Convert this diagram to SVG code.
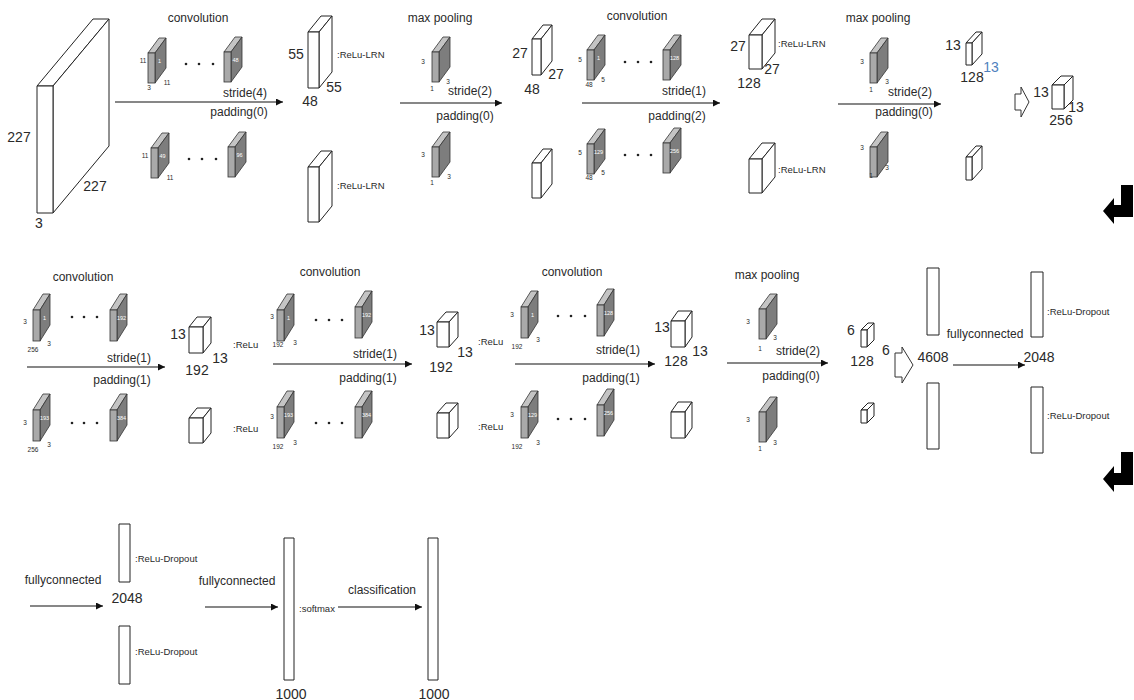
<svg xmlns="http://www.w3.org/2000/svg" width="1134" height="700" viewBox="0 0 1134 700">
<style>
.t{font-family:"Liberation Sans",Arial,sans-serif;fill:#2a2a2a}
.op{font-size:12px}
.dim{font-size:14px}
.sm{font-size:6.5px;text-anchor:middle}
.act{font-size:9.5px}
.in{font-family:"Liberation Sans",Arial,sans-serif;font-size:5.5px;fill:#fff;text-anchor:middle}
.mid{text-anchor:middle}
.box{fill:#fff;stroke:#222;stroke-width:1;stroke-linejoin:round}
.kf{fill:#a9a9a9;stroke:#333;stroke-width:0.8}
.ks{fill:#7d7d7d;stroke:#333;stroke-width:0.8}
.kt{fill:#c4c4c4;stroke:#333;stroke-width:0.8}
.conn{stroke:#111;stroke-width:1.2;fill:none;marker-end:url(#ah)}
.hollow{fill:#fff;stroke:#333;stroke-width:1}
.ret{fill:#000}
.dot{fill:#222}
</style>
<defs>
<marker id="ah" viewBox="0 0 10 10" refX="10" refY="5" markerWidth="9" markerHeight="7" markerUnits="userSpaceOnUse" orient="auto"><path d="M0,0 L10,5 L0,10 z" fill="#111"/></marker>
<g id="kern"><polygon class="kt" points="0,0 7,0 18,-15 11,-15"/><polygon class="ks" points="7,0 18,-15 18,15 7,30"/><rect class="kf" x="0" y="0" width="7" height="30"/></g>
<g id="kern2"><polygon class="kt" points="0,0 7,0 17,-16 10,-16"/><polygon class="ks" points="7,0 17,-16 17,15 7,31"/><rect class="kf" x="0" y="0" width="7" height="31"/></g>
</defs>

<g id="connectors">
<line class="conn" x1="115" y1="102" x2="283" y2="102"/>
<line class="conn" x1="400" y1="103" x2="502" y2="103"/>
<line class="conn" x1="582" y1="103" x2="720" y2="103"/>
<line class="conn" x1="838" y1="104" x2="941" y2="104"/>
<polygon class="hollow" points="1015,94 1021,94 1021,87 1029,102 1021,117 1021,110 1015,110"/>
<polygon class="ret" points="1121,185 1133,185 1133,217 1114,217 1114,224 1103,211 1114,198 1114,205 1121,205"/>
<line class="conn" x1="27" y1="367" x2="165" y2="367"/>
<line class="conn" x1="273" y1="364" x2="412" y2="364"/>
<line class="conn" x1="515" y1="364" x2="655" y2="364"/>
<line class="conn" x1="727" y1="363" x2="828" y2="363"/>
<polygon class="hollow" points="895,353 902,353 902,347 913,365 902,383 902,377 895,377"/>
<line class="conn" x1="953" y1="365" x2="1025" y2="365"/>
<polygon class="ret" points="1121,452 1133,452 1133,485 1114,485 1114,492 1103,479 1114,466 1114,473 1121,473"/>
<line class="conn" x1="30" y1="606" x2="103" y2="606"/>
<line class="conn" x1="205" y1="607" x2="278" y2="607"/>
<line class="conn" x1="338" y1="607" x2="422" y2="607"/>
</g>

<g id="input">
<polygon class="box" points="37,86 53,86 109,19 93,19"/>
<polygon class="box" points="53,86 109,19 109,146 53,213"/>
<rect class="box" x="37" y="86" width="16" height="127"/>
<text class="t dim mid" x="19" y="142">227</text>
<text class="t dim mid" x="95" y="191">227</text>
<text class="t dim mid" x="39" y="228">3</text>
</g>

<g id="conv1">
<text class="t op mid" x="198" y="22">convolution</text>
<use href="#kern" x="148" y="53"/><text class="in" x="159.5" y="63">1</text>
<text class="t sm" x="143" y="63">11</text><text class="t sm" x="149" y="90">3</text><text class="t sm" x="167" y="85">11</text>
<circle class="dot" cx="186" cy="64" r="1.3"/><circle class="dot" cx="199" cy="64" r="1.3"/><circle class="dot" cx="213" cy="64" r="1.3"/>
<use href="#kern" x="224" y="52"/><text class="in" x="235.5" y="62">48</text>
<use href="#kern" x="151" y="148"/><text class="in" x="162.5" y="158">49</text>
<text class="t sm" x="145" y="158">11</text><text class="t sm" x="170" y="180">11</text>
<circle class="dot" cx="189" cy="159" r="1.3"/><circle class="dot" cx="202" cy="159" r="1.3"/><circle class="dot" cx="216" cy="159" r="1.3"/>
<use href="#kern" x="228" y="147"/><text class="in" x="239.5" y="157">96</text>
<text class="t op mid" x="245" y="97">stride(4)</text>
<text class="t op mid" x="239" y="116">padding(0)</text>
</g>

<g id="fmap1">
<polygon class="box" points="308,32 319,32 332,16 321,16"/>
<polygon class="box" points="319,32 332,16 332,72 319,88"/>
<rect class="box" x="308" y="32" width="11" height="56"/>
<polygon class="box" points="308,167 319,167 332,151 321,151"/>
<polygon class="box" points="319,167 332,151 332,206 319,222"/>
<rect class="box" x="308" y="167" width="11" height="55"/>
<text class="t dim mid" x="296" y="59">55</text>
<text class="t dim mid" x="334" y="92">55</text>
<text class="t dim mid" x="310" y="106">48</text>
<text class="t act" x="337" y="58">:ReLu-LRN</text>
<text class="t act" x="337" y="189">:ReLu-LRN</text>
</g>

<g id="pool1">
<text class="t op mid" x="440" y="22">max pooling</text>
<use href="#kern" x="432" y="52"/>
<text class="t sm" x="423" y="64">3</text><text class="t sm" x="432" y="91">1</text><text class="t sm" x="448" y="84">3</text>
<use href="#kern" x="432" y="147"/>
<text class="t sm" x="423" y="157">3</text><text class="t sm" x="432" y="185">1</text><text class="t sm" x="449" y="179">3</text>
<text class="t op mid" x="470" y="95">stride(2)</text>
<text class="t op mid" x="465" y="120">padding(0)</text>
</g>

<g id="fmap2">
<polygon class="box" points="532,39 541,39 552,25 543,25"/>
<polygon class="box" points="541,39 552,25 552,61 541,75"/>
<rect class="box" x="532" y="39" width="9" height="36"/>
<polygon class="box" points="532,163 541,163 552,149 543,149"/>
<polygon class="box" points="541,163 552,149 552,184 541,198"/>
<rect class="box" x="532" y="163" width="9" height="35"/>
<text class="t dim mid" x="520" y="58">27</text>
<text class="t dim mid" x="556" y="79">27</text>
<text class="t dim mid" x="532" y="94">48</text>
</g>

<g id="conv2">
<text class="t op mid" x="637" y="20">convolution</text>
<use href="#kern" x="587" y="50"/><text class="in" x="598.5" y="60">1</text>
<text class="t sm" x="580" y="62">5</text><text class="t sm" x="589" y="87">48</text><text class="t sm" x="603" y="82">5</text>
<circle class="dot" cx="625" cy="62" r="1.3"/><circle class="dot" cx="638" cy="62" r="1.3"/><circle class="dot" cx="651" cy="62" r="1.3"/>
<use href="#kern" x="663" y="50"/><text class="in" x="674.5" y="60">128</text>
<use href="#kern" x="587" y="144"/><text class="in" x="598.5" y="154">129</text>
<text class="t sm" x="580" y="155">5</text><text class="t sm" x="589" y="180">48</text><text class="t sm" x="603" y="175">5</text>
<circle class="dot" cx="625" cy="155" r="1.3"/><circle class="dot" cx="638" cy="155" r="1.3"/><circle class="dot" cx="651" cy="155" r="1.3"/>
<use href="#kern" x="663" y="143"/><text class="in" x="674.5" y="153">256</text>
<text class="t op mid" x="684" y="95">stride(1)</text>
<text class="t op mid" x="677" y="120">padding(2)</text>
</g>

<g id="fmap3">
<polygon class="box" points="749,35 762,35 775,19 762,19"/>
<polygon class="box" points="762,35 775,19 775,53 762,69"/>
<rect class="box" x="749" y="35" width="13" height="34"/>
<polygon class="box" points="749,159 762,159 775,143 762,143"/>
<polygon class="box" points="762,159 775,143 775,177 762,193"/>
<rect class="box" x="749" y="159" width="13" height="34"/>
<text class="t dim mid" x="738" y="51">27</text>
<text class="t dim mid" x="772" y="74">27</text>
<text class="t dim mid" x="749" y="88">128</text>
<text class="t act" x="778" y="47">:ReLu-LRN</text>
<text class="t act" x="778" y="173">:ReLu-LRN</text>
</g>

<g id="pool2">
<text class="t op mid" x="878" y="22">max pooling</text>
<use href="#kern" x="870" y="53"/>
<text class="t sm" x="862" y="64">3</text><text class="t sm" x="871" y="92">1</text><text class="t sm" x="887" y="84">3</text>
<use href="#kern" x="870" y="147"/>
<text class="t sm" x="862" y="150">3</text><text class="t sm" x="871" y="178">1</text><text class="t sm" x="887" y="170">3</text>
<text class="t op mid" x="910" y="96">stride(2)</text>
<text class="t op mid" x="904" y="116">padding(0)</text>
</g>

<g id="fmap4">
<polygon class="box" points="966,43 972,43 982,32 976,32"/>
<polygon class="box" points="972,43 982,32 982,54 972,65"/>
<rect class="box" x="966" y="43" width="6" height="22"/>
<polygon class="box" points="966,157 972,157 982,146 976,146"/>
<polygon class="box" points="972,157 982,146 982,169 972,180"/>
<rect class="box" x="966" y="157" width="6" height="23"/>
<text class="t dim mid" x="953" y="50">13</text>
<text class="t dim mid" x="991" y="72" style="fill:#4f81bd">13</text>
<text class="t dim mid" x="972" y="82">128</text>
</g>

<g id="fmap5">
<polygon class="box" points="1052,85 1064,85 1073,76 1061,76"/>
<polygon class="box" points="1064,85 1073,76 1073,100 1064,109"/>
<rect class="box" x="1052" y="85" width="12" height="24"/>
<text class="t dim mid" x="1041" y="97">13</text>
<text class="t dim mid" x="1076" y="112">13</text>
<text class="t dim mid" x="1061" y="125">256</text>
</g>

<g id="conv3">
<text class="t op mid" x="83" y="281">convolution</text>
<use href="#kern2" x="33" y="310"/><text class="in" x="44.5" y="320">1</text>
<text class="t sm" x="25" y="324">3</text><text class="t sm" x="33" y="352">256</text><text class="t sm" x="49" y="346">3</text>
<circle class="dot" cx="72" cy="317" r="1.3"/><circle class="dot" cx="84" cy="317" r="1.3"/><circle class="dot" cx="97" cy="317" r="1.3"/>
<use href="#kern2" x="110" y="310"/><text class="in" x="121.5" y="320">192</text>
<use href="#kern2" x="33" y="410"/><text class="in" x="44.5" y="420">193</text>
<text class="t sm" x="25" y="425">3</text><text class="t sm" x="33" y="452">256</text><text class="t sm" x="49" y="447">3</text>
<circle class="dot" cx="72" cy="423" r="1.3"/><circle class="dot" cx="84" cy="423" r="1.3"/><circle class="dot" cx="97" cy="423" r="1.3"/>
<use href="#kern2" x="110" y="410"/><text class="in" x="121.5" y="420">384</text>
<text class="t op mid" x="129" y="362">stride(1)</text>
<text class="t op mid" x="122" y="384">padding(1)</text>
</g>

<g id="fmap6">
<polygon class="box" points="189,327 203,327 211,317 197,317"/>
<polygon class="box" points="203,327 211,317 211,343 203,353"/>
<rect class="box" x="189" y="327" width="14" height="26"/>
<polygon class="box" points="189,418 203,418 211,408 197,408"/>
<polygon class="box" points="203,418 211,408 211,433 203,443"/>
<rect class="box" x="189" y="418" width="14" height="25"/>
<text class="t dim mid" x="178" y="339">13</text>
<text class="t dim mid" x="220" y="363">13</text>
<text class="t dim mid" x="197" y="375">192</text>
<text class="t act" x="233" y="348">:ReLu</text>
<text class="t act" x="233" y="432">:ReLu</text>
</g>

<g id="conv4">
<text class="t op mid" x="330" y="276">convolution</text>
<use href="#kern2" x="277" y="310"/><text class="in" x="288.5" y="320">1</text>
<text class="t sm" x="272" y="319">3</text><text class="t sm" x="278" y="347">192</text><text class="t sm" x="295" y="345">3</text>
<circle class="dot" cx="316" cy="320" r="1.3"/><circle class="dot" cx="329" cy="320" r="1.3"/><circle class="dot" cx="342" cy="320" r="1.3"/>
<use href="#kern2" x="355" y="307"/><text class="in" x="366.5" y="317">192</text>
<use href="#kern2" x="277" y="407"/><text class="in" x="288.5" y="417">193</text>
<text class="t sm" x="272" y="419">3</text><text class="t sm" x="278" y="449">192</text><text class="t sm" x="295" y="445">3</text>
<circle class="dot" cx="316" cy="423" r="1.3"/><circle class="dot" cx="329" cy="423" r="1.3"/><circle class="dot" cx="342" cy="423" r="1.3"/>
<use href="#kern2" x="355" y="407"/><text class="in" x="366.5" y="417">384</text>
<text class="t op mid" x="375" y="358">stride(1)</text>
<text class="t op mid" x="368" y="382">padding(1)</text>
</g>

<g id="fmap7">
<polygon class="box" points="437,322 449,322 458,312 446,312"/>
<polygon class="box" points="449,322 458,312 458,337 449,347"/>
<rect class="box" x="437" y="322" width="12" height="25"/>
<polygon class="box" points="437,413 449,413 458,403 446,403"/>
<polygon class="box" points="449,413 458,403 458,428 449,438"/>
<rect class="box" x="437" y="413" width="12" height="25"/>
<text class="t dim mid" x="427" y="335">13</text>
<text class="t dim mid" x="465" y="357">13</text>
<text class="t dim mid" x="441" y="372">192</text>
<text class="t act" x="478" y="345">:ReLu</text>
<text class="t act" x="478" y="430">:ReLu</text>
</g>

<g id="conv5">
<text class="t op mid" x="572" y="276">convolution</text>
<use href="#kern2" x="521" y="307"/><text class="in" x="532.5" y="317">1</text>
<text class="t sm" x="512" y="317">3</text><text class="t sm" x="517" y="349">192</text><text class="t sm" x="538" y="342">3</text>
<circle class="dot" cx="558" cy="316" r="1.3"/><circle class="dot" cx="571" cy="316" r="1.3"/><circle class="dot" cx="585" cy="316" r="1.3"/>
<use href="#kern2" x="597" y="305"/><text class="in" x="608.5" y="315">128</text>
<use href="#kern2" x="521" y="407"/><text class="in" x="532.5" y="417">129</text>
<text class="t sm" x="512" y="417">3</text><text class="t sm" x="517" y="449">192</text><text class="t sm" x="538" y="445">3</text>
<circle class="dot" cx="558" cy="419" r="1.3"/><circle class="dot" cx="571" cy="419" r="1.3"/><circle class="dot" cx="585" cy="419" r="1.3"/>
<use href="#kern2" x="597" y="405"/><text class="in" x="608.5" y="415">256</text>
<text class="t op mid" x="618" y="354">stride(1)</text>
<text class="t op mid" x="611" y="382">padding(1)</text>
</g>

<g id="fmap8">
<polygon class="box" points="671,321 685,321 692,311 678,311"/>
<polygon class="box" points="685,321 692,311 692,337 685,347"/>
<rect class="box" x="671" y="321" width="14" height="26"/>
<polygon class="box" points="671,412 685,412 692,402 678,402"/>
<polygon class="box" points="685,412 692,402 692,428 685,438"/>
<rect class="box" x="671" y="412" width="14" height="26"/>
<text class="t dim mid" x="662" y="332">13</text>
<text class="t dim mid" x="700" y="356">13</text>
<text class="t dim mid" x="676" y="366">128</text>
</g>

<g id="pool3">
<text class="t op mid" x="767" y="279">max pooling</text>
<use href="#kern" x="759" y="309"/>
<text class="t sm" x="748" y="324">3</text><text class="t sm" x="760" y="351">1</text><text class="t sm" x="775" y="340">3</text>
<use href="#kern" x="759" y="412"/>
<text class="t sm" x="748" y="422">3</text><text class="t sm" x="760" y="451">1</text><text class="t sm" x="775" y="445">3</text>
<text class="t op mid" x="798" y="355">stride(2)</text>
<text class="t op mid" x="791" y="380">padding(0)</text>
</g>

<g id="fmap9">
<polygon class="box" points="861,330 867,330 874,323 868,323"/>
<polygon class="box" points="867,330 874,323 874,340 867,347"/>
<rect class="box" x="861" y="330" width="6" height="17"/>
<polygon class="box" points="861,410 867,410 874,403 868,403"/>
<polygon class="box" points="867,410 874,403 874,416 867,423"/>
<rect class="box" x="861" y="410" width="6" height="13"/>
<text class="t dim mid" x="851" y="335">6</text>
<text class="t dim mid" x="886" y="355">6</text>
<text class="t dim mid" x="862" y="366">128</text>
</g>

<g id="fc4608">
<rect class="box" x="927" y="268" width="12" height="67"/>
<rect class="box" x="927" y="383" width="12" height="66"/>
<text class="t dim mid" x="933" y="362">4608</text>
</g>

<g id="fc1">
<text class="t op mid" x="985" y="338">fullyconnected</text>
</g>

<g id="fc2048a">
<rect class="box" x="1031" y="272" width="12" height="65"/>
<rect class="box" x="1031" y="387" width="12" height="66"/>
<text class="t dim mid" x="1039" y="362">2048</text>
<text class="t act" x="1047" y="315">:ReLu-Dropout</text>
<text class="t act" x="1047" y="419">:ReLu-Dropout</text>
</g>

<g id="fc2">
<text class="t op mid" x="63" y="584">fullyconnected</text>
</g>

<g id="fc2048b">
<rect class="box" x="119" y="524" width="11" height="58"/>
<rect class="box" x="119" y="626" width="11" height="58"/>
<text class="t dim mid" x="127" y="603">2048</text>
<text class="t act" x="135" y="562">:ReLu-Dropout</text>
<text class="t act" x="135" y="655">:ReLu-Dropout</text>
</g>

<g id="fc3">
<text class="t op mid" x="237" y="585">fullyconnected</text>
</g>

<g id="fc1000">
<rect class="box" x="284" y="538" width="10" height="142"/>
<text class="t act" x="299" y="612">:softmax</text>
<text class="t dim mid" x="291" y="699">1000</text>
</g>

<g id="classify">
<text class="t op mid" x="382" y="594">classification</text>
</g>

<g id="output">
<rect class="box" x="428" y="538" width="10" height="142"/>
<text class="t dim mid" x="434" y="699">1000</text>
</g>
</svg>
